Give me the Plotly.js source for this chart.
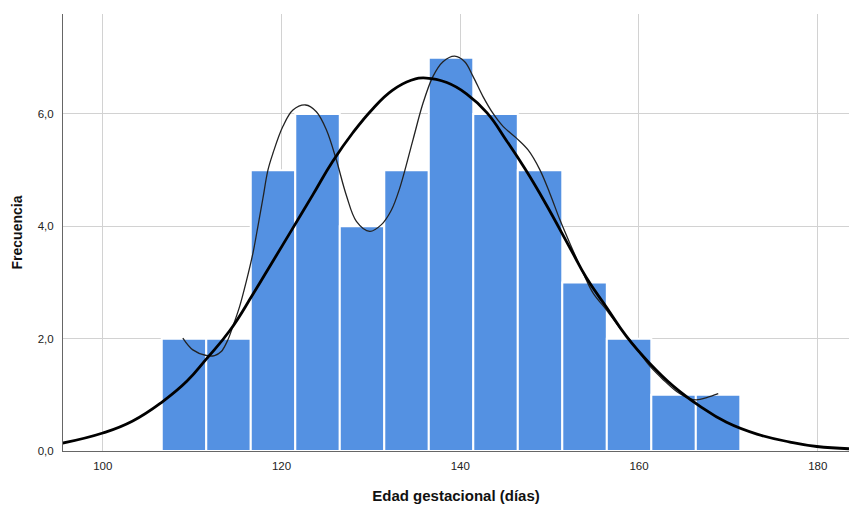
<!DOCTYPE html>
<html>
<head>
<meta charset="utf-8">
<script src="https://cdn.plot.ly/plotly-3.0.1.min.js"></script>
<style>html,body{margin:0;padding:0;background:#fff}#chart{width:849px;height:506px}</style>
</head>
<body>
<div id="chart"></div>
<script>
// Histogram bins (lower edges) and counts
const binEdges = [106.6, 111.58, 116.56, 121.54, 126.52, 131.5, 136.48, 141.46, 146.44, 151.42, 156.4, 161.38, 166.36];
const binWidth = 4.98;
const counts = [2, 2, 5, 6, 4, 5, 7, 6, 5, 3, 2, 1, 1];

// Fitted normal curve
const normX = [95.5, 100, 103.3, 106.7, 109.4, 111.6, 114.2, 116.8, 119, 121.2, 123.5, 125.7, 128, 130.2, 132.4, 134.5, 136.2, 138.5, 140.7, 143, 145.2, 147.3, 149.5, 152.3, 154.1, 156.4, 158.6, 161.2, 163.8, 166.8, 169.8, 173.2, 176.9, 179.9, 183.5];
const normY = [0.14, 0.32, 0.53, 0.88, 1.24, 1.64, 2.14, 2.79, 3.37, 3.95, 4.56, 5.15, 5.67, 6.09, 6.42, 6.60, 6.64, 6.56, 6.36, 6.02, 5.52, 5.01, 4.42, 3.61, 3.09, 2.55, 2.04, 1.56, 1.16, 0.80, 0.51, 0.30, 0.16, 0.08, 0.04];

// Kernel density curve
const kdeX = [108.96, 110.08, 111.58, 112.51, 113.26, 114.0, 114.56, 115.31, 116.06, 116.8, 117.36, 117.92, 118.48, 119.04, 120.16, 121.28, 122.7, 123.9, 125.02, 126.14, 127.26, 128.38, 129.87, 131.18, 132.3, 133.23, 134.71, 135.83, 136.95, 138.07, 139.38, 140.5, 141.43, 142.55, 143.67, 144.79, 146.29, 147.59, 148.9, 150.02, 151.14, 152.26, 153.75, 154.87, 156.37, 157.86, 158.98, 160.1, 161.22, 162.71, 164.21, 165.7, 166.45, 167.57, 168.87];
const kdeY = [2.01, 1.80, 1.70, 1.70, 1.77, 1.98, 2.22, 2.57, 3.02, 3.52, 4.0, 4.5, 5.0, 5.3, 5.78, 6.07, 6.16, 6.04, 5.72, 5.18, 4.55, 4.09, 3.91, 4.03, 4.29, 4.68, 5.54, 6.19, 6.67, 6.93, 7.03, 6.93, 6.67, 6.31, 6.01, 5.78, 5.57, 5.36, 5.01, 4.59, 4.12, 3.70, 3.17, 2.81, 2.51, 2.19, 1.98, 1.74, 1.51, 1.27, 1.06, 0.93, 0.91, 0.95, 1.02];

const xTicks = [100, 120, 140, 160, 180];
const yTicks = [0, 2, 4, 6];

const centers = binEdges.map(e => e + binWidth / 2);

const traces = [
  {
    type: 'bar', x: centers, y: counts, width: binWidth,
    marker: {color: 'rgb(84,145,226)', line: {color: '#ffffff', width: 2}},
    hoverinfo: 'skip'
  },
  {
    type: 'scatter', mode: 'lines', x: kdeX, y: kdeY,
    line: {color: '#222', width: 1.3, shape: 'spline', smoothing: 1}
  },
  {
    type: 'scatter', mode: 'lines', x: normX, y: normY,
    line: {color: '#000', width: 2.8, shape: 'spline', smoothing: 1.3}
  }
];

const layout = {
  width: 849, height: 506,
  margin: {l: 63, r: 0, t: 14, b: 55},
  paper_bgcolor: '#fff', plot_bgcolor: '#fff',
  showlegend: false,
  separators: ',.',
  font: {family: 'Liberation Sans, Arial, sans-serif', color: '#222'},
  xaxis: {
    range: [95.55, 183.5], tickvals: xTicks, ticktext: xTicks.map(String),
    showgrid: true, gridcolor: '#d2d2d2', gridwidth: 1,
    zeroline: false, showline: true, linecolor: '#666', linewidth: 1,
    ticks: '', ticklabelstandoff: 4,
    tickfont: {size: 11.5, color: '#222'},
    title: {text: '<b>Edad gestacional (días)</b>', font: {size: 15, color: '#111'}, standoff: 19}
  },
  yaxis: {
    range: [0, 7.78], tickvals: yTicks, tickformat: '.1f',
    showgrid: true, gridcolor: '#d2d2d2', gridwidth: 1,
    zeroline: false, showline: true, linecolor: '#666', linewidth: 1,
    ticks: '', ticklabelstandoff: 6,
    tickfont: {size: 11.5, color: '#222'},
    title: {text: '<b>Frecuencia</b>', font: {size: 14, color: '#111'}, standoff: 11}
  }
};

Plotly.newPlot('chart', traces, layout, {displayModeBar: false, staticPlot: true});
</script>
</body>
</html>
